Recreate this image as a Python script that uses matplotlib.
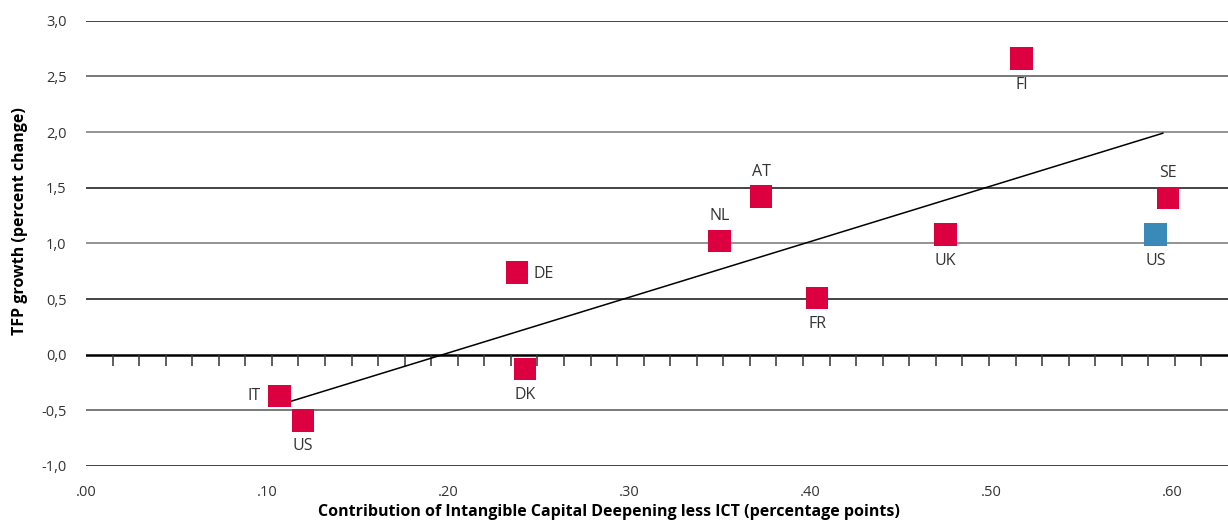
import matplotlib
matplotlib.use('Agg')
import matplotlib.pyplot as plt
import numpy as np

plt.rcParams['font.family'] = ['Open Sans', 'DejaVu Sans']

# country points (contribution of intangible capital deepening, TFP growth)
countries = ['IT', 'US', 'DK', 'DE', 'NL', 'AT', 'FR', 'UK', 'FI', 'US', 'SE']
x_vals = [0.107, 0.120, 0.2425, 0.238, 0.350, 0.373, 0.404, 0.475, 0.517, 0.591, 0.598]
y_vals = [-0.37, -0.59, -0.13, 0.74, 1.02, 1.42, 0.51, 1.08, 2.66, 1.08, 1.41]
highlight = [False, False, False, False, False, False, False, False, False, True, False]
label_pos = ['left', 'below', 'below', 'right', 'above', 'above', 'below', 'below', 'below', 'below', 'above']

# fitted trend line end points
trend_x = [0.107, 0.595]
trend_y = [-0.45, 1.99]

red = '#DC0040'
blue = '#3A8AB9'

fig = plt.figure(figsize=(12.28, 5.25), dpi=100)
ax = fig.add_axes([0.070, 0.1124, 0.930, 0.848])

xmax = 0.631
ax.set_xlim(0, xmax)
ax.set_ylim(-1.0, 3.0)

# horizontal grid lines
grid_cols = {3.0: '#111111', 2.5: '#555555', 2.0: '#777777', 1.5: '#111111',
             1.0: '#777777', 0.5: '#111111', -0.5: '#555555', -1.0: '#111111'}
for yv, c in grid_cols.items():
    ax.axhline(yv, color=c, lw=1.1, zorder=1)
ax.axhline(0, color='black', lw=1.8, zorder=2)

# small ticks hanging from the zero line
tick_x = np.linspace(0, xmax, 44)[1:-1]
ax.vlines(tick_x, -0.1, 0, color='#333333', lw=1.1, zorder=2)

ax.plot(trend_x, trend_y, color='black', lw=1.1, zorder=3)

cols = [blue if h else red for h in highlight]
ax.scatter(x_vals, y_vals, marker='s', s=260, c=cols, linewidths=0, zorder=4)

for name, xv, yv, pos in zip(countries, x_vals, y_vals, label_pos):
    if pos == 'left':
        ax.annotate(name, (xv, yv), xytext=(-14, 0), textcoords='offset points',
                    ha='right', va='center', fontsize=11.5, color='#333333')
    elif pos == 'right':
        ax.annotate(name, (xv, yv), xytext=(12, -1), textcoords='offset points',
                    ha='left', va='center', fontsize=11.5, color='#333333')
    elif pos == 'above':
        ax.annotate(name, (xv, yv), xytext=(0, 12), textcoords='offset points',
                    ha='center', va='bottom', fontsize=11.5, color='#333333')
    else:
        ax.annotate(name, (xv, yv), xytext=(0, -13), textcoords='offset points',
                    ha='center', va='top', fontsize=11.5, color='#333333')

for s in ax.spines.values():
    s.set_visible(False)

ax.set_xticks([0, 0.1, 0.2, 0.3, 0.4, 0.5, 0.6])
ax.set_xticklabels(['.00', '.10', '.20', '.30', '.40', '.50', '.60'])
ax.set_yticks(np.arange(-1.0, 3.01, 0.5))
ax.set_yticklabels([f'{v:.1f}'.replace('.', ',') for v in np.arange(-1.0, 3.01, 0.5)])
ax.tick_params(length=0, labelsize=10.5, colors='#333333', pad=14)
ax.tick_params(axis='y', pad=14)

ax.set_xlabel('Contribution of Intangible Capital Deepening less ICT (percentage points)',
              fontsize=11.5, fontweight='bold', labelpad=1)
ax.xaxis.set_label_coords(0.458, -0.085)
ax.set_ylabel('TFP growth (percent change)', fontsize=11.5, fontweight='bold')
ax.yaxis.set_label_coords(-0.051, 0.55)

fig.savefig('out.png', dpi=100)
